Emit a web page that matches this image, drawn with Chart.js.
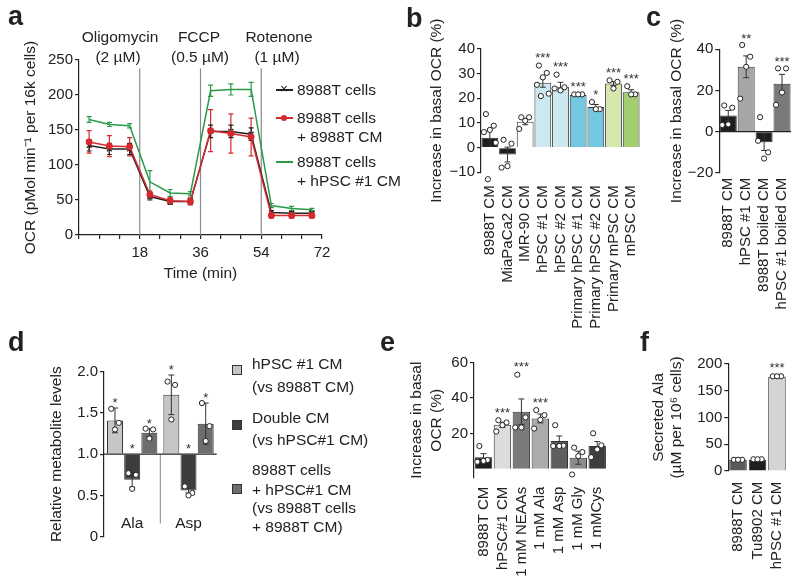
<!DOCTYPE html>
<html lang="en">
<head>
<meta charset="UTF-8">
<title>OCR and alanine panels</title>
<script src="https://cdn.jsdelivr.net/npm/chart.js"></script>
<style>
  body { margin: 0; background: #fff; font-family: "Liberation Sans", Arial, sans-serif; color: #222; }
  #fig { position: relative; width: 800px; height: 586px; overflow: hidden; }
  canvas { position: absolute; }
  .t { position: absolute; font-size: 15.5px; line-height: 18px; white-space: nowrap; }
  .c { transform: translateX(-50%); }
  .p { position: absolute; font-weight: bold; font-size: 27px; line-height: 27px; }
  .sq { position: absolute; width: 8px; height: 8px; border: 1px solid #333; }
  .ln { position: absolute; width: 17px; height: 0; border-top: 2px solid; }
</style>
</head>
<body>
<div id="fig">
  <canvas id="chartA" width="335" height="290" style="left:0;top:0"></canvas>
  <canvas id="chartB" width="255" height="340" style="left:390px;top:0"></canvas>
  <canvas id="chartC" width="180" height="325" style="left:620px;top:0"></canvas>
  <canvas id="chartD" width="235" height="296" style="left:0;top:290px"></canvas>
  <canvas id="chartE" width="215" height="296" style="left:400px;top:290px"></canvas>
  <canvas id="chartF" width="180" height="296" style="left:620px;top:290px"></canvas>

  <div class="p" style="left:8px;top:3px">a</div>
  <div class="p" style="left:406px;top:5px">b</div>
  <div class="p" style="left:646px;top:4px">c</div>
  <div class="p" style="left:8px;top:329px">d</div>
  <div class="p" style="left:380px;top:329px">e</div>
  <div class="p" style="left:640px;top:329px">f</div>

  <!-- panel a: drug additions -->
  <div class="t c" style="left:120px;top:28px">Oligomycin</div>
  <div class="t c" style="left:118px;top:48px">(2 µM)</div>
  <div class="t c" style="left:199px;top:28px">FCCP</div>
  <div class="t c" style="left:200px;top:48px">(0.5 µM)</div>
  <div class="t c" style="left:279px;top:28px">Rotenone</div>
  <div class="t c" style="left:277px;top:48px">(1 µM)</div>

  <!-- panel a: legend -->
  <div class="ln" style="left:276px;top:89px;border-color:#222"></div>
  <div class="t c" style="left:284px;top:80px;font-size:13px">×</div>
  <div class="t" style="left:297px;top:81px">8988T cells</div>
  <div class="ln" style="left:276px;top:117px;border-color:#d42a2f"></div>
  <div style="position:absolute;left:281px;top:115px;width:6px;height:6px;border-radius:3px;background:#d42a2f"></div>
  <div class="t" style="left:297px;top:109px">8988T cells</div>
  <div class="t" style="left:297px;top:128px">+ 8988T CM</div>
  <div class="ln" style="left:276px;top:161px;border-color:#2a9a48"></div>
  <div class="t" style="left:297px;top:153px">8988T cells</div>
  <div class="t" style="left:297px;top:172px">+ hPSC #1 CM</div>

  <!-- panel d: legend -->
  <div class="sq" style="left:232px;top:365px;background:#c6c6c6"></div>
  <div class="t" style="left:252px;top:355px">hPSC #1 CM</div>
  <div class="t" style="left:252px;top:378px">(vs 8988T CM)</div>
  <div class="sq" style="left:232px;top:420px;background:#3d3d3d"></div>
  <div class="t" style="left:252px;top:409px">Double CM</div>
  <div class="t" style="left:252px;top:431px">(vs hPSC#1 CM)</div>
  <div class="sq" style="left:232px;top:484px;background:#6e6e6e"></div>
  <div class="t" style="left:252px;top:461px">8988T cells</div>
  <div class="t" style="left:252px;top:481px">+ hPSC#1 CM</div>
  <div class="t" style="left:252px;top:499px">(vs 8988T cells</div>
  <div class="t" style="left:252px;top:518px">+ 8988T CM)</div>
</div>

<script>
  // ---- a: OCR time course (mean, s.e.m.)
  const timeA = [3, 9, 15, 21, 27, 33, 39, 45, 51, 57, 63, 69];
  const drugTimes = [18, 36, 54];
  const ocrCells = [128, 123, 123, 55, 48, 48, 148, 148, 144, 32, 31, 31];
  const ocrCellsErr = [8, 8, 8, 5, 4, 4, 9, 9, 9, 3, 3, 3];
  const ocr8988CM = [133, 127, 126, 58, 49, 48, 149, 145, 140, 28, 28, 28];
  const ocr8988CMErr = [16, 15, 13, 5, 5, 5, 30, 28, 27, 4, 4, 4];
  const ocrHpscCM = [165, 158, 156, 76, 60, 59, 206, 208, 208, 42, 38, 36];
  const ocrHpscCMErr = [4, 3, 3, 16, 5, 3, 8, 8, 10, 3, 3, 2];

  // ---- b: increase in basal OCR by conditioned medium
  const catsB = ['8988T CM', 'MiaPaCa2 CM', 'IMR-90 CM', 'hPSC #1 CM', 'hPSC #2 CM',
                 'Primary hPSC #1 CM', 'Primary hPSC #2 CM', 'Primary mPSC CM', 'mPSC CM'];
  const incB = [4.0, -2.8, 10.5, 26.3, 24.7, 21.3, 16.5, 26.0, 22.5];
  const errB = [3.5, 3, 1.2, 1.8, 1.8, 0.3, 1, 0.8, 1];
  const dotsB = [[13.6, 8.9, 7.2, 6.3, 2, -12.8], [3.2, 1.6, -7.5, -8.1], [12.3, 12.3, 10.9, 7.6],
                 [33.3, 30.3, 28.5, 25.5, 21.9, 20.9], [29.6, 24.5, 23.2, 24], [21.6, 21.6, 21.6],
                 [18.5, 15.6, 15.6], [27.3, 26.7, 24], [24.9, 21.6, 21.6]];
  const starsB = ['', '', '', '***', '***', '***', '*', '***', '***'];

  // ---- c: boiled conditioned medium
  const catsC = ['8988T CM', 'hPSC #1 CM', '8988T boiled CM', 'hPSC #1 boiled CM'];
  const incC = [7.8, 31.5, -5.2, 23.3];
  const errC = [2.5, 5.3, 4, 4.5];
  const dotsC = [[12.7, 11.6, 3.5, 3.2], [42.1, 36.4, 31.5, 16], [7, -10.1, -13.1, -4.5], [30.7, 30.7, 19, 13]];
  const starsC = ['', '**', '', '***'];

  // ---- d: relative metabolite levels
  const metsD = ['Ala', 'Asp'];
  const relHpsc = [1.41, 1.72];
  const errHpsc = [0.15, 0.24];
  const dotsHpsc = [[1.55, 1.38, 1.30], [1.88, 1.84, 1.42]];
  const relDouble = [0.69, 0.56];
  const errDouble = [0.09, 0.03];
  const dotsDouble = [[0.77, 0.75, 0.58], [0.61, 0.53, 0.50]];
  const relCells = [1.26, 1.37];
  const errCells = [0.05, 0.25];
  const dotsCells = [[1.31, 1.30, 1.19], [1.62, 1.34, 1.16]];
  const starsD = ['*', '*'];

  // ---- e: single amino acids
  const catsE = ['8988T CM', 'hPSC#1 CM', '1 mM NEAAs', '1 mM Ala', '1 mM Asp', '1 mM Gly', '1 mMCys'];
  const incE = [6.6, 24.9, 32.3, 28.5, 15.8, 6.3, 12.9];
  const errE = [2, 1.5, 7.2, 2.5, 2.8, 3.7, 2.5];
  const dotsE = [[12.9, 5, 4.5, 4], [27.5, 26.2, 24.7, 21.1], [53.2, 29.1, 23.4, 23.4], [33.2, 30.4, 27.7, 22.8],
                 [24.7, 13.1, 12.9, 12.9], [12, 9.5, 7.2, -3.2], [20.1, 13.3, 11, 6.6]];
  const starsE = ['', '***', '***', '***', '', '', ''];

  // ---- f: secreted alanine
  const catsF = ['8988T CM', 'Tu8902 CM', 'hPSC #1 CM'];
  const alaF = [21, 21, 176];
  const errF = [0.5, 0.5, 0.8];
  const dotsF = [[21, 21, 21], [22, 22, 22], [177, 177, 177]];
  const starsF = ['', '', '***'];

  Chart.defaults.font.family = '"Liberation Sans", Arial, Helvetica, sans-serif';
  Chart.defaults.font.size = 15;
  Chart.defaults.color = '#222';

  const jitter = [-4, 4, 0, -6, 6, -2, 2];

  // error bars, replicate dots and stars on top of bars
  function barMarks(sets, gap) {
    return {
      id: 'barMarks',
      afterDatasetsDraw(chart) {
        const ctx = chart.ctx, y = chart.scales.y;
        ctx.save();
        sets.forEach((s, di) => {
          const ds = chart.data.datasets[di];
          const base = ds.base !== undefined ? ds.base : 0;
          chart.getDatasetMeta(di).data.forEach((bar, i) => {
            const mean = ds.data[i];
            const cx = bar.x;
            const top = y.getPixelForValue(mean + s.err[i]);
            const bot = y.getPixelForValue(mean - s.err[i]);
            ctx.strokeStyle = '#333';
            ctx.lineWidth = 1;
            ctx.beginPath();
            ctx.moveTo(cx, top); ctx.lineTo(cx, bot);
            ctx.moveTo(cx - 3, top); ctx.lineTo(cx + 3, top);
            ctx.moveTo(cx - 3, bot); ctx.lineTo(cx + 3, bot);
            ctx.stroke();
            let hi = Math.min(top, y.getPixelForValue(Math.max(mean, base)));
            s.dots[i].forEach((v, k) => {
              const px = cx + jitter[k % jitter.length] * bar.width / 17;
              const py = y.getPixelForValue(v);
              hi = Math.min(hi, py);
              ctx.beginPath();
              ctx.arc(px, py, 2.6, 0, Math.PI * 2);
              ctx.fillStyle = '#fff';
              ctx.fill();
              ctx.strokeStyle = '#222';
              ctx.stroke();
            });
            if (s.stars[i]) {
              ctx.fillStyle = '#333';
              ctx.font = '13px "Liberation Sans", Arial, sans-serif';
              ctx.textAlign = 'center';
              ctx.textBaseline = 'alphabetic';
              ctx.fillText(s.stars[i], cx, hi - gap + 7.5);
            }
          });
        });
        ctx.restore();
      }
    };
  }

  // horizontal line across the plot at a given value (drawn over the bars)
  function refLine(value) {
    return {
      id: 'refLine',
      afterDatasetsDraw(chart) {
        const ctx = chart.ctx, area = chart.chartArea, py = chart.scales.y.getPixelForValue(value);
        ctx.save();
        ctx.strokeStyle = '#222';
        ctx.lineWidth = 1.3;
        ctx.beginPath();
        ctx.moveTo(area.left, py);
        ctx.lineTo(area.right, py);
        ctx.stroke();
        ctx.restore();
      }
    };
  }

  function yAxis(min, max, step, width, text, pad, lineHeight) {
    return {
      min: min, max: max,
      ticks: { stepSize: step, padding: 2, callback: v => String(v).replace('-', '\u2212') },
      grid: { drawOnChartArea: false, tickLength: 4, color: '#222', lineWidth: 1.2 },
      border: { color: '#222', width: 1.2 },
      title: { display: true, text: text, padding: { top: pad, bottom: 0 },
               font: { size: 15.5, lineHeight: lineHeight || 1.2 } },
      afterFit: s => { s.width = width; s.paddingTop = 0; s.paddingBottom = 0; }
    };
  }

  function catAxis(height, pad) {
    return {
      grid: { display: false, drawTicks: false },
      border: { display: false },
      ticks: { autoSkip: false, minRotation: 90, maxRotation: 90, padding: pad },
      afterFit: s => { s.height = height; s.paddingLeft = 0; s.paddingRight = 0; }
    };
  }

  function barChart(id, labels, datasets, scales, padding, plugins) {
    return new Chart(document.getElementById(id), {
      type: 'bar',
      data: { labels: labels, datasets: datasets },
      options: {
        responsive: false,
        animation: false,
        layout: { padding: padding },
        plugins: { legend: { display: false }, tooltip: { enabled: false } },
        scales: scales
      },
      plugins: plugins
    });
  }

  // ---------- a ----------
  const seriesA = [
    { label: '8988T cells + 8988T CM', y: ocr8988CM, err: ocr8988CMErr, color: '#d42a2f', style: 'circle', r: 2.8 },
    { label: '8988T cells', y: ocrCells, err: ocrCellsErr, color: '#222', style: 'crossRot', r: 3.5 },
    { label: '8988T cells + hPSC #1 CM', y: ocrHpscCM, err: ocrHpscCMErr, color: '#2a9a48', style: 'circle', r: 0 }
  ];

  const timeMarks = {
    id: 'timeMarks',
    beforeDatasetsDraw(chart) {
      const { ctx, scales: { x, y } } = chart;
      ctx.save();
      ctx.strokeStyle = '#8a8a8a';
      ctx.lineWidth = 1.2;
      drugTimes.forEach(t => {
        const px = x.getPixelForValue(t);
        ctx.beginPath();
        ctx.moveTo(px, y.getPixelForValue(0));
        ctx.lineTo(px, y.getPixelForValue(238));
        ctx.stroke();
      });
      seriesA.forEach((s, di) => {
        ctx.strokeStyle = s.color;
        ctx.lineWidth = 1.2;
        chart.getDatasetMeta(di).data.forEach((pt, i) => {
          const top = y.getPixelForValue(s.y[i] + s.err[i]);
          const bot = y.getPixelForValue(s.y[i] - s.err[i]);
          ctx.beginPath();
          ctx.moveTo(pt.x, top); ctx.lineTo(pt.x, bot);
          ctx.moveTo(pt.x - 2.5, top); ctx.lineTo(pt.x + 2.5, top);
          ctx.moveTo(pt.x - 2.5, bot); ctx.lineTo(pt.x + 2.5, bot);
          ctx.stroke();
        });
      });
      ctx.restore();
    }
  };

  new Chart(document.getElementById('chartA'), {
    type: 'line',
    data: {
      datasets: seriesA.map(s => ({
        label: s.label,
        data: timeA.map((t, i) => ({ x: t, y: s.y[i] })),
        borderColor: s.color,
        backgroundColor: s.color,
        borderWidth: 1.5,
        pointStyle: s.style,
        pointRadius: s.r,
        pointBorderWidth: 1.3,
        tension: 0
      }))
    },
    options: {
      responsive: false,
      animation: false,
      layout: { padding: { top: 60, right: 13, left: 0, bottom: 0 } },
      plugins: { legend: { display: false }, tooltip: { enabled: false } },
      scales: {
        x: {
          type: 'linear', min: 0, max: 72,
          ticks: { stepSize: 6, padding: 5, autoSkip: false, maxRotation: 0,
                   callback: v => drugTimes.concat([72]).includes(v) ? v : '' },
          grid: { drawOnChartArea: false, tickLength: 4, color: '#222', lineWidth: 1.2 },
          border: { color: '#222', width: 1.2 },
          title: { display: true, text: 'Time (min)', padding: { top: 0, bottom: 7 }, font: { size: 15.5 } },
          afterFit: s => { s.height = 55; s.paddingLeft = 0; s.paddingRight = 0; }
        },
        y: yAxis(0, 250, 50, 79, 'OCR (pMol min\u207B\u00B9 per 16k cells)', 21.7)
      }
    },
    plugins: [timeMarks]
  });

  // ---------- b ----------
  barChart('chartB', catsB,
    [{ data: incB,
       backgroundColor: ['#1e1e1e', '#1e1e1e', '#ffffff', '#cce8f0', '#cce8f0', '#74c7e1', '#74c7e1', '#d6e7ae', '#a3cd70'],
       borderColor: '#333', borderWidth: 1, barPercentage: 0.95, categoryPercentage: 1 }],
    { x: catAxis(167.7, 13), y: yAxis(-10, 40, 10, 91, 'Increase in basal OCR (%)', 37.7) },
    { top: 49, right: 5, left: 0, bottom: 0 },
    [barMarks([{ err: errB, dots: dotsB, stars: starsB }], 11)]);

  // ---------- c ----------
  barChart('chartC', catsC,
    [{ data: incC, backgroundColor: ['#1e1e1e', '#a6a6a6', '#1e1e1e', '#7a7a7a'],
       borderColor: '#333', borderWidth: 1, barPercentage: 0.95, categoryPercentage: 1 }],
    { x: catAxis(152.3, 5), y: yAxis(-20, 40, 20, 99.3, 'Increase in basal OCR (%)', 47.4) },
    { top: 49.3, right: 9, left: 0, bottom: 0 },
    [refLine(0), barMarks([{ err: errC, dots: dotsC, stars: starsC }], 9.5)]);

  // ---------- d ----------
  const yD = yAxis(0, 2, 0.5, 104, 'Relative metabolite levels', 47.7);
  yD.ticks.callback = v => v === 0 ? '0' : v.toFixed(1);
  const groupLabelsD = {
    id: 'groupLabels',
    beforeDatasetsDraw(chart) {
      const { ctx, scales: { x, y } } = chart;
      ctx.save();
      ctx.strokeStyle = '#999';
      ctx.lineWidth = 1.2;
      ctx.beginPath();
      ctx.moveTo(x.getPixelForValue(0.5), y.getPixelForValue(1));
      ctx.lineTo(x.getPixelForValue(0.5), y.getPixelForValue(0.16));
      ctx.stroke();
      ctx.fillStyle = '#222';
      ctx.font = '15.5px "Liberation Sans", Arial, sans-serif';
      ctx.textAlign = 'center';
      ctx.textBaseline = 'middle';
      metsD.forEach((m, i) => ctx.fillText(m, x.getPixelForValue(i), y.getPixelForValue(0.16)));
      ctx.restore();
    }
  };
  barChart('chartD', metsD,
    [{ data: relHpsc, backgroundColor: '#c6c6c6' },
     { data: relDouble, backgroundColor: '#3d3d3d' },
     { data: relCells, backgroundColor: '#6e6e6e' }].map(d => Object.assign(d, {
       base: 1, borderColor: '#333', borderWidth: 1, barPercentage: 0.93, categoryPercentage: 0.915 })),
    { x: { display: false }, y: yD },
    { top: 81.7, right: 18.3, left: 0, bottom: 49.3 },
    [groupLabelsD, refLine(1),
     barMarks([{ err: errHpsc, dots: dotsHpsc, stars: starsD },
               { err: errDouble, dots: dotsDouble, stars: starsD },
               { err: errCells, dots: dotsCells, stars: starsD }], 8.5)]);

  // ---------- e ----------
  const yE = yAxis(-5, 60, 20, 74, ['Increase in basal', 'OCR (%)'], 7, 1.29);
  yE.afterBuildTicks = s => { s.ticks = s.ticks.filter(t => t.value % 20 === 0); };
  barChart('chartE', catsE,
    [{ data: incE, backgroundColor: ['#1e1e1e', '#dcdcdc', '#7a7a7a', '#ababab', '#5e5e5e', '#8c8c8c', '#3e3e3e'],
       borderColor: '#333', borderWidth: 1, barPercentage: 0.92, categoryPercentage: 1 }],
    { x: catAxis(108.3, 9), y: yE },
    { top: 72.7, right: 8.3, left: 0, bottom: 0 },
    [barMarks([{ err: errE, dots: dotsE, stars: starsE }], 11)]);

  // ---------- f ----------
  barChart('chartF', catsF,
    [{ data: alaF, backgroundColor: ['#5a5a5a', '#1e1e1e', '#d4d4d4'],
       borderColor: '#333', borderWidth: 1, barPercentage: 0.9, categoryPercentage: 1 }],
    { x: catAxis(115, 10.7), y: yAxis(0, 200, 50, 108.3, ['Secreted Ala', '(\u00B5M per 10\u2076 cells)'], 30, 1.16) },
    { top: 74, right: 13.3, left: 0, bottom: 0 },
    [barMarks([{ err: errF, dots: dotsF, stars: starsF }], 12)]);
</script>
</body>
</html>
